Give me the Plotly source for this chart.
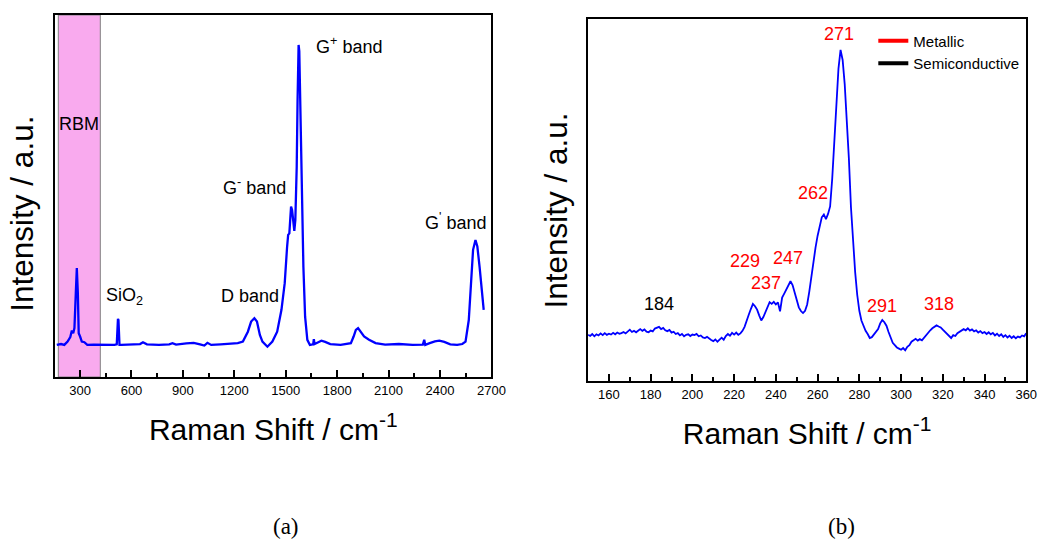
import plotly.graph_objects as go

# ---------------- data: panel (a) full Raman spectrum ----------------
shift_a = [164, 189, 208, 227, 243, 252, 260, 267, 275, 281, 287, 292, 300, 310, 325, 342,
           380, 440, 500, 514, 519, 521, 524, 527, 530, 540, 600, 650, 667, 690, 760, 820,
           839, 860, 920, 963, 1000, 1025, 1043, 1065, 1120, 1180, 1220, 1250, 1279, 1298,
           1317, 1332, 1349, 1364, 1393, 1422, 1450, 1475, 1494, 1508, 1514, 1521, 1531,
           1537, 1544, 1550, 1556, 1564, 1569, 1575, 1579, 1585, 1594, 1603, 1613, 1626,
           1641, 1660, 1664, 1668, 1690, 1708, 1730, 1760, 1820, 1880, 1896, 1909, 1922,
           1938, 1957, 1986, 2024, 2080, 2160, 2240, 2300, 2308, 2311, 2314, 2340, 2370,
           2396, 2425, 2460, 2500, 2530, 2549, 2568, 2582, 2593, 2607, 2618, 2631, 2645, 2655]
intensity_a = [0.0, 0.3, 0.0, 1.1, 2.6, 4.8, 3.9, 5.6, 17.2, 25.6, 17.2, 3.9, 2.8, 1.1, 0.9, 0.0,
               0.1, 0.0, 0.0, 0.2, 7.5, 8.7, 8.3, 0.6, 0.0, 0.0, 0.1, 0.3, 0.9, 0.2, 0.0, 0.2,
               0.6, 0.1, 0.5, 0.7, 0.2, -0.2, 0.7, 0.0, 0.2, 0.4, 0.6, 1.1, 4.4, 7.8,
               8.9, 7.8, 3.3, 1.1, -0.6, 1.1, 4.4, 11.7, 20.6, 32.8, 36.7, 37.2, 46.1,
               45.0, 39.4, 38.0, 41.7, 59.4, 81.7, 100.0, 98.0, 78.0, 52.8, 26.0, 9.4, 1.7,
               0.0, 0.2, 1.9, 0.3, 0.9, 1.4, 1.0, 0.3, 0.0, 0.6, 2.8, 5.0, 5.6,
               4.4, 2.8, 1.7, 0.6, 0.1, 0.3, 0.0, 0.1, 1.7, 0.2, 0.0, 0.6, 1.2,
               1.4, 1.0, 0.2, 0.0, 0.3, 1.1, 8.3, 20.6, 31.7, 35.0, 32.8, 26.0, 18.3, 11.7]

# ---------------- data: panel (b) RBM region ----------------
shift_b = list(range(150, 361))
intensity_b = [
    0.6, 0.2, 0.9, 0.1, 0.8, 0.4, 1.1, 0.5, 1.2, 0.6,
    1.0, 0.7, 1.3, 0.8, 1.4, 1.0, 1.2, 1.6, 1.1, 1.8,
    2.4, 1.6, 2.0, 1.5, 2.2, 2.6, 2.0, 2.5, 1.7, 1.5,
    2.1, 1.8, 2.8, 3.1, 3.4, 2.6, 3.0, 2.2, 1.9, 2.3,
    1.4, 1.7, 0.9, 1.2, 0.4, 0.9, 0.1, 0.6, 0.8, 0.2,
    0.7, 0.5, 0.9, 0.1, 0.4, -0.3, -0.5, -0.1, -0.8, -1.2,
    -1.6, -1.0, -1.8, -0.9, -0.4, -1.1, 0.2, 0.9, 0.3, 1.3,
    0.7, 1.4, 0.6, 1.1, 2.0, 3.4, 5.2, 7.6, 9.6, 11.4,
    10.6, 9.4, 7.4, 5.6, 6.8, 8.6, 10.8, 12.0, 11.4, 12.1,
    11.2, 11.9, 8.8, 13.6, 15.0, 16.4, 18.2, 19.3, 18.0, 15.3,
    12.4, 10.2, 8.9, 8.2, 9.0, 11.2, 15.6, 21.0, 26.2, 31.0,
    35.2, 38.6, 41.6, 42.6, 41.0, 42.8, 45.4, 55.0, 68.0, 82.0,
    93.5, 100.0, 96.5, 88.0, 76.0, 62.0, 45.0, 32.0, 22.5, 14.5,
    9.0, 5.6, 3.4, 2.0, 0.9, -0.5, -0.2, 0.8, 1.4, 2.6,
    4.6, 5.8, 5.0, 3.8, 1.6, -0.6, -2.2, -3.0, -3.8, -4.2,
    -4.6, -4.0, -4.8, -3.6, -3.0, -1.8, -1.2, -0.8, -1.4, -0.9,
    -1.3, -0.4, 0.6, 1.6, 2.2, 2.9, 3.4, 3.9, 3.5, 3.2,
    2.4, 1.7, 1.0, 0.3, -0.5, 0.5, 0.2, 1.2, 1.6, 2.0,
    2.6, 2.2, 2.9, 2.1, 2.5, 1.8, 2.2, 1.4, 1.9, 1.2,
    1.6, 0.9, 1.5, 0.8, 1.3, 0.4, 1.0, 0.2, 0.8, -0.1,
    0.5, -0.3, 0.3, -0.5, 0.1, -0.6, 0.0, -0.3, 0.4, 0.1,
    1.2]

# band labels panel (a)
band_labels = ["G<sup>+</sup> band", "G<sup>-</sup> band", "G<sup>'</sup> band", "D band", "SiO<sub>2</sub>"]
band_x = [1665, 1125, 2302, 1108, 438]
band_y = [99.7, 52.7, 41.0, 16.3, 16.0]
rbm_range = [173, 418]

# peak labels panel (b)
peak_labels = ["271", "262", "229", "247", "237", "184", "291", "318"]
peak_x = [270.2, 257.6, 225.1, 245.8, 235.2, 183.8, 290.7, 318.0]
peak_y = [105.6, 50.0, 26.4, 27.3, 18.6, 11.4, 10.8, 11.4]
peak_colors = ["red", "red", "red", "red", "red", "black", "red", "red"]

FONT = "Arial, 'Liberation Sans', sans-serif"
BLUE = "#0000FF"

fig = go.Figure()
fig.add_trace(go.Scatter(x=shift_a, y=intensity_a, mode="lines",
                         line=dict(color=BLUE, width=2.3), xaxis="x", yaxis="y",
                         showlegend=False, hoverinfo="skip"))
fig.add_trace(go.Scatter(x=shift_b, y=intensity_b, mode="lines",
                         line=dict(color=BLUE, width=1.8), xaxis="x2", yaxis="y2",
                         showlegend=False, hoverinfo="skip"))
fig.add_trace(go.Scatter(x=[None], y=[None], mode="lines", name="Metallic",
                         line=dict(color="red", width=4), xaxis="x2", yaxis="y2"))
fig.add_trace(go.Scatter(x=[None], y=[None], mode="lines", name="Semiconductive",
                         line=dict(color="black", width=4), xaxis="x2", yaxis="y2"))

fig.add_shape(type="rect", xref="x", yref="y domain", x0=rbm_range[0], x1=rbm_range[1],
              y0=0, y1=1, fillcolor="#F9AAEE", line=dict(color="#808080", width=1),
              layer="below")

axis_common = dict(showline=True, linecolor="black", linewidth=2, mirror=True,
                   showgrid=False, zeroline=False)

fig.update_layout(
    width=1058, height=546, margin=dict(l=0, r=0, t=0, b=0),
    paper_bgcolor="white", plot_bgcolor="white",
    font=dict(family=FONT, color="black"),
    xaxis=dict(domain=[0.0529, 0.4707], range=[155, 2700], anchor="y",
               tickmode="linear", tick0=0, dtick=300, ticks="inside", ticklen=7,
               tickwidth=1.5, tickcolor="black", tickfont=dict(size=13),
               minor=dict(ticks="inside", ticklen=4, tickwidth=1.5, tickcolor="black",
                          tick0=0, dtick=150),
               title=dict(text="Raman Shift / cm<sup>-1</sup>", font=dict(size=30), standoff=22),
               **axis_common),
    yaxis=dict(domain=[0.3095, 0.9725], range=[-10.7, 110], anchor="x",
               showticklabels=False, ticks="", **axis_common),
    xaxis2=dict(domain=[0.5633, 0.9830], range=[150, 360], anchor="y2",
                tickmode="linear", tick0=0, dtick=20, ticks="inside", ticklen=7,
                tickwidth=1.5, tickcolor="black", tickfont=dict(size=13),
                minor=dict(ticks="inside", ticklen=4, tickwidth=1.5, tickcolor="black",
                           tick0=0, dtick=10),
                title=dict(text="Raman Shift / cm<sup>-1</sup>", font=dict(size=30), standoff=22),
                **axis_common),
    yaxis2=dict(domain=[0.3022, 0.9652], range=[-15.5, 110.8], anchor="x2",
                showticklabels=False, ticks="", **axis_common),
    legend=dict(x=0.8365, y=0.955, xanchor="left", yanchor="top",
                bgcolor="rgba(0,0,0,0)", font=dict(size=15, family=FONT),
                itemwidth=30, tracegroupgap=0),
)

annotations = []
for t, x, y in zip(band_labels, band_x, band_y):
    annotations.append(dict(text=t, x=x, y=y, xref="x", yref="y", xanchor="left",
                            yanchor="middle", showarrow=False, font=dict(size=18)))
annotations.append(dict(text="RBM", x=sum(rbm_range) / 2, y=73.5, xref="x", yref="y",
                        xanchor="center", yanchor="middle", showarrow=False,
                        font=dict(size=18)))
for t, x, y, c in zip(peak_labels, peak_x, peak_y, peak_colors):
    annotations.append(dict(text=t, x=x, y=y, xref="x2", yref="y2", xanchor="center",
                            yanchor="middle", showarrow=False, font=dict(size=18, color=c)))
# y-axis titles
annotations.append(dict(text="Intensity / a.u.", x=0.0208, y=0.6081, xref="paper",
                        yref="paper", textangle=-90, xanchor="center", yanchor="middle",
                        showarrow=False, font=dict(size=31.5)))
annotations.append(dict(text="Intensity / a.u.", x=0.5321, y=0.6136, xref="paper",
                        yref="paper", textangle=-90, xanchor="center", yanchor="middle",
                        showarrow=False, font=dict(size=31.5)))
# panel captions
for t, x in [("(a)", 0.2741), ("(b)", 0.8062)]:
    annotations.append(dict(text=t, x=x, y=0.0348, xref="paper", yref="paper",
                            xanchor="center", yanchor="middle", showarrow=False,
                            font=dict(size=23, family="'Times New Roman', 'Liberation Serif', serif")))
fig.update_layout(annotations=annotations)

fig.write_html("out.html")
